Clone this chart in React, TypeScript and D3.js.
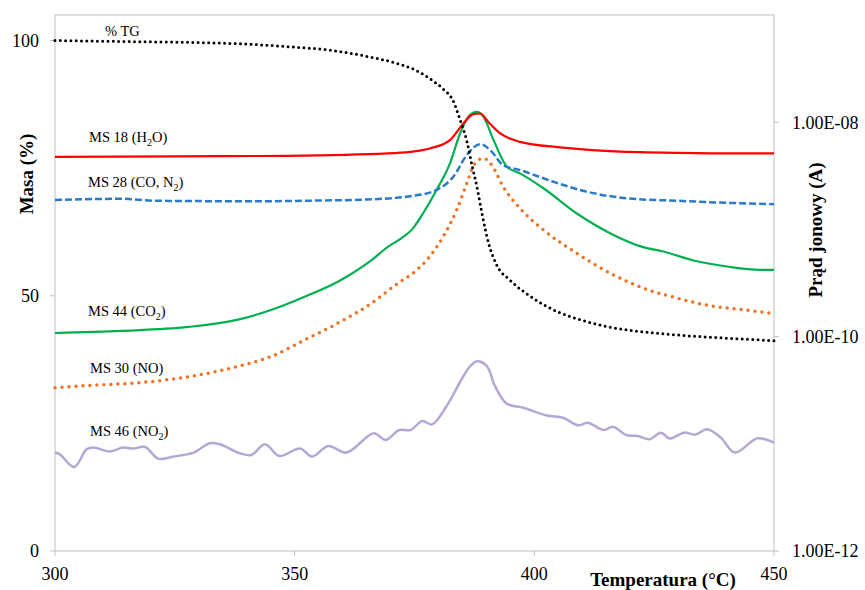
import React from 'react';
import * as d3 from 'd3';

// temperatures (°C) and readings
const tgTemp = [300, 315, 330, 340, 350, 357.5, 365, 371, 375, 379, 381, 383, 384.5, 386, 387, 388, 389, 390.4, 392, 395, 399, 405, 410, 416, 424, 430, 440, 450];
const tgMass = [100, 99.8, 99.6, 99.3, 98.7, 98.1, 96.9, 95.6, 94.3, 92, 90.5, 88.3, 84.5, 80, 75.5, 71.5, 66.5, 60.5, 56.3, 53, 50, 46.8, 45.2, 43.8, 42.8, 42.3, 41.7, 41.2];

const h2oTemp = [300, 325, 348.6, 369.5, 374.1, 378.2, 382.4, 385.2, 387.3, 388.7, 390.4, 392.9, 397, 405.4, 415.8, 429.7, 443.6, 450];
const h2oCurrent = [4.75e-9, 4.8e-9, 4.86e-9, 5.11e-9, 5.29e-9, 5.69e-9, 6.8e-9, 9.72e-9, 1.19e-8, 1.205e-8, 1.006e-8, 7.85e-9, 6.56e-9, 5.82e-9, 5.37e-9, 5.18e-9, 5.11e-9, 5.11e-9];

const coTemp = [300, 313.9, 320.9, 341.7, 352.2, 366.1, 374.5, 379.6, 383.1, 385.9, 388.7, 390.8, 393.5, 397, 404, 410.9, 419.3, 429.7, 443.6, 450];
const coCurrent = [1.88e-9, 1.93e-9, 1.85e-9, 1.83e-9, 1.85e-9, 1.91e-9, 2.05e-9, 2.33e-9, 3.1e-9, 4.93e-9, 6.24e-9, 5.49e-9, 3.98e-9, 3.58e-9, 2.78e-9, 2.25e-9, 1.95e-9, 1.85e-9, 1.75e-9, 1.72e-9];

const co2Temp = [300, 313.9, 327.8, 338.2, 345.2, 352.2, 359.1, 366.1, 369.5, 372.3, 374.5, 376.8, 379.6, 382.4, 384.5, 386.2, 388, 389.4, 391.5, 394.3, 397, 401.9, 408.8, 415.8, 422.7, 426.9, 433.2, 440.2, 447.1, 450];
const co2Current = [1.08e-10, 1.13e-10, 1.23e-10, 1.44e-10, 1.78e-10, 2.37e-10, 3.27e-10, 5.2e-10, 6.92e-10, 8.28e-10, 1.0e-9, 1.415e-9, 2.33e-9, 4.13e-9, 7.85e-9, 1.12e-8, 1.247e-8, 1.12e-8, 6.8e-9, 3.84e-9, 3.33e-9, 2.42e-9, 1.415e-9, 9.22e-10, 6.83e-10, 6.22e-10, 5.13e-10, 4.51e-10, 4.2e-10, 4.2e-10];

const noTemp = [300, 307, 317.4, 327.8, 338.2, 345.2, 352.2, 359.1, 366.1, 371.6, 375.1, 377.6, 381, 383.8, 385.9, 387.6, 389.4, 391.1, 393.5, 397, 401.9, 408.8, 415.8, 422.7, 429.7, 436.6, 443.6, 450];
const noCurrent = [3.33e-11, 3.5e-11, 3.71e-11, 4.22e-11, 5.29e-11, 6.56e-11, 9.38e-11, 1.341e-10, 2.06e-10, 3.16e-10, 4.05e-10, 5.2e-10, 8.57e-10, 1.519e-9, 2.69e-9, 4.13e-9, 4.6e-9, 3.98e-9, 2.5e-9, 1.575e-9, 9.89e-10, 6.01e-10, 3.91e-10, 2.84e-10, 2.29e-10, 1.94e-10, 1.78e-10, 1.64e-10];

const no2Temp = [300, 301, 304, 306.6, 308, 311.5, 314.2, 316.3, 318.8, 321.5, 324.7, 328.9, 332.3, 334.4, 338.6, 341, 343.8, 346.8, 351.1, 353.6, 357, 360.8, 366.5, 369, 371.8, 374.2, 376.6, 378.7, 381.7, 384.8, 386.6, 388.1, 390.1, 391.8, 394.2, 397.7, 402.6, 406, 409.2, 411.1, 414.5, 416.4, 419.2, 421.6, 424, 426.4, 428.3, 431.2, 433.6, 436, 438.9, 441.8, 446.6, 450];
const no2Current = [8.28e-12, 7.98e-12, 6.08e-12, 8.89e-12, 9.22e-12, 8.46e-12, 9.22e-12, 9.02e-12, 9.34e-12, 7.28e-12, 7.6e-12, 8.28e-12, 1.011e-11, 9.89e-12, 8.16e-12, 7.87e-12, 9.89e-12, 7.7e-12, 9.02e-12, 7.6e-12, 9.54e-12, 8.28e-12, 1.252e-11, 1.085e-11, 1.344e-11, 1.344e-11, 1.63e-11, 1.518e-11, 2.25e-11, 3.98e-11, 5.29e-11, 5.89e-11, 5.29e-11, 3.45e-11, 2.38e-11, 2.17e-11, 1.84e-11, 1.75e-11, 1.486e-11, 1.574e-11, 1.344e-11, 1.445e-11, 1.207e-11, 1.182e-11, 1.101e-11, 1.271e-11, 1.118e-11, 1.271e-11, 1.218e-11, 1.364e-11, 1.142e-11, 8.28e-12, 1.125e-11, 1.026e-11];

const xTicks = [300, 350, 400, 450];
const leftTicks = [0, 50, 100];
const rightTicks = [1e-12, 1e-10, 1e-8];
const rightTickLabels = ['1.00E-12', '1.00E-10', '1.00E-08'];

const W = 865;
const H = 590;
const margin = { top: 15, right: 91, bottom: 39, left: 55 };
const serif = '"Liberation Serif", "Times New Roman", serif';
const axisColor = '#bfbfbf';

export default function App() {
  const x = d3.scaleLinear().domain([300, 450]).range([margin.left, W - margin.right]);
  const yL = d3.scaleLinear().domain([0, 105]).range([H - margin.bottom, margin.top]);
  const yR = d3.scaleLog().domain([1e-12, 1e-7]).range([H - margin.bottom, margin.top]);

  const zip = (a: number[], b: number[]) => a.map((t, i) => [t, b[i]] as [number, number]);

  const massLine = d3.line<[number, number]>()
    .x(d => x(d[0]))
    .y(d => yL(d[1]))
    .curve(d3.curveMonotoneX);
  const ionLine = d3.line<[number, number]>()
    .x(d => x(d[0]))
    .y(d => yR(d[1]))
    .curve(d3.curveMonotoneX);
  const wavyLine = d3.line<[number, number]>()
    .x(d => x(d[0]))
    .y(d => yR(d[1]))
    .curve(d3.curveCatmullRom.alpha(0.5));

  const x0 = margin.left;
  const x1 = W - margin.right;
  const yb = H - margin.bottom;
  const yt = margin.top;

  return (
    <svg width={W} height={H} style={{ position: 'absolute', left: 0, top: 0, background: '#fff' }} fontFamily={serif}>
      <rect x={0} y={0} width={W} height={H} fill="#fff" />
      {/* frame */}
      <rect x={x0} y={yt} width={x1 - x0} height={yb - yt} fill="none" stroke={axisColor} strokeWidth={1} />

      {/* x axis */}
      {xTicks.map(t => (
        <g key={'x' + t}>
          <line x1={x(t)} x2={x(t)} y1={yb} y2={yb + 5} stroke={axisColor} />
          <text x={x(t)} y={yb + 29} textAnchor="middle" fontSize={18} fill="#000">{t}</text>
        </g>
      ))}
      {/* left axis */}
      {leftTicks.map(t => (
        <g key={'l' + t}>
          <line x1={x0 - 5} x2={x0} y1={yL(t)} y2={yL(t)} stroke={axisColor} />
          <text x={x0 - 16} y={yL(t)} dy="0.35em" textAnchor="end" fontSize={18} fill="#000">{t}</text>
        </g>
      ))}
      {/* right axis */}
      {rightTicks.map((t, i) => (
        <g key={'r' + i}>
          <line x1={x1} x2={x1 + 5} y1={yR(t)} y2={yR(t)} stroke={axisColor} />
          <text x={x1 + 18} y={yR(t)} dy="0.35em" textAnchor="start" fontSize={18} fill="#000">{rightTickLabels[i]}</text>
        </g>
      ))}

      {/* series */}
      <path d={wavyLine(zip(no2Temp, no2Current)) || ''} fill="none" stroke="#b4a7d6" strokeWidth={2.5} />
      <path d={ionLine(zip(noTemp, noCurrent)) || ''} fill="none" stroke="#ec7424" strokeWidth={3.5} strokeDasharray="0 7" strokeLinecap="round" />
      <path d={ionLine(zip(co2Temp, co2Current)) || ''} fill="none" stroke="#00b050" strokeWidth={2.2} />
      <path d={ionLine(zip(coTemp, coCurrent)) || ''} fill="none" stroke="#2a7bcb" strokeWidth={2.5} strokeDasharray="7 3" />
      <path d={ionLine(zip(h2oTemp, h2oCurrent)) || ''} fill="none" stroke="#ff0000" strokeWidth={2.2} />
      <path d={massLine(zip(tgTemp, tgMass)) || ''} fill="none" stroke="#000" strokeWidth={3} strokeDasharray="0 5.3" strokeLinecap="round" />

      {/* series labels */}
      <g fontSize={14.5} fill="#000">
        <text x={105} y={36}>% TG</text>
        <text x={89} y={142}>MS 18 (H<tspan dy={4} fontSize={10}>2</tspan><tspan dy={-4}>O)</tspan></text>
        <text x={88} y={187}>MS 28 (CO, N<tspan dy={4} fontSize={10}>2</tspan><tspan dy={-4}>)</tspan></text>
        <text x={88} y={316}>MS 44 (CO<tspan dy={4} fontSize={10}>2</tspan><tspan dy={-4}>)</tspan></text>
        <text x={90} y={373}>MS 30 (NO)</text>
        <text x={90} y={436}>MS 46 (NO<tspan dy={4} fontSize={10}>2</tspan><tspan dy={-4}>)</tspan></text>
      </g>

      {/* axis titles */}
      <text transform="translate(33,174) rotate(-90)" textAnchor="middle" fontSize={19} fontWeight="bold" fill="#000">Masa (%)</text>
      <text transform="translate(822,230) rotate(-90)" textAnchor="middle" fontSize={19} fontWeight="bold" fill="#000">Prąd jonowy (A)</text>
      <text x={663} y={586} textAnchor="middle" fontSize={19} fontWeight="bold" fill="#000">Temperatura (°C)</text>
    </svg>
  );
}
